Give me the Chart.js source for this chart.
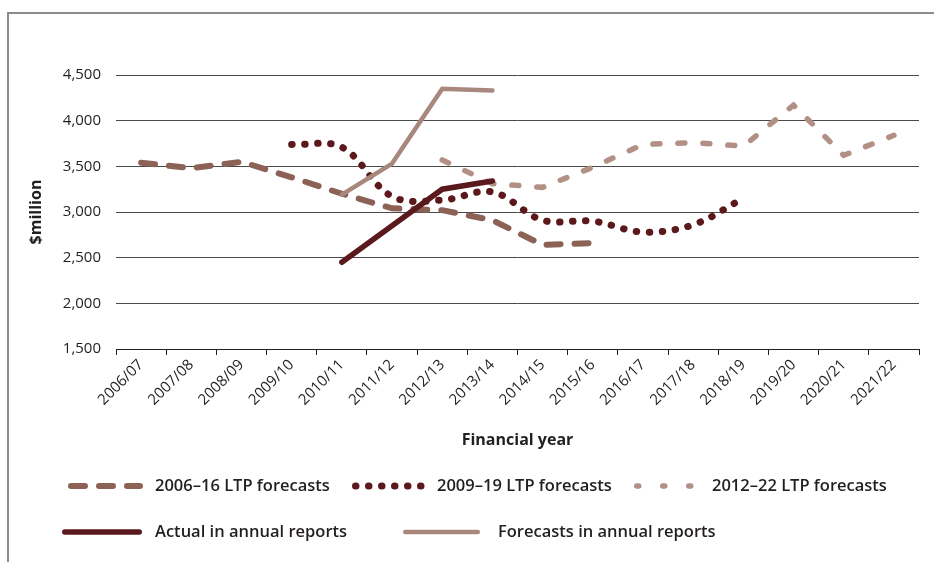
<!DOCTYPE html>
<html>
<head>
<meta charset="utf-8">
<title>LTP forecasts</title>
<script src="https://cdn.jsdelivr.net/npm/chart.js@4"></script>
<style>
  html, body { margin: 0; padding: 0; background: #fff; }
  #wrap { position: relative; width: 934px; height: 562px; overflow: hidden; }
  #frame { position: absolute; left: 7px; top: 12px; width: 940px; height: 560px;
    border-left: 2px solid #8c8c8c; border-top: 2px solid #8c8c8c; }
  #myChart { position: absolute; left: 0; top: 0; }
</style>
</head>
<body>
<div id="wrap">
  <div id="frame"></div>
  <canvas id="myChart" width="934" height="562"></canvas>
</div>
<script>
// financial years on the x axis
const years = ['2006/07', '2007/08', '2008/09', '2009/10', '2010/11', '2011/12', '2012/13', '2013/14',
  '2014/15', '2015/16', '2016/17', '2017/18', '2018/19', '2019/20', '2020/21', '2021/22']

// $million
const ltp0616 = [3540, 3480, 3550, 3380, 3200, 3040, 3020, 2910, 2640, 2660, null, null, null, null, null, null]
const ltp0919 = [null, null, null, 3740, 3710, 3170, 3130, 3220, 2910, 2900, 2780, 2860, 3150, null, null, null]
const ltp1222 = [null, null, null, null, null, null, 3570, 3310, 3270, 3490, 3740, 3760, 3720, 4170, 3620, 3840]
const actual = [null, null, null, null, 2450, 2850, 3250, 3340, null, null, null, null, null, null, null, null]
const annualForecasts = [null, null, null, null, 3190, 3530, 4350, 4330, null, null, null, null, null, null, null, null]

const yTicks = [1500, 2000, 2500, 3000, 3500, 4000, 4500]

const font = '"Open Sans", "DejaVu Sans", sans-serif'

// legend is drawn by hand: two rows like the original
const legendSpots = [
  { x0: 68, x1: 143, y: 486, tx: 155 },
  { x0: 352, x1: 428, y: 486, tx: 437 },
  { x0: 634, x1: 695, y: 486, tx: 712 },
  { x0: 62, x1: 142, y: 532, tx: 155 },
  { x0: 403, x1: 480, y: 532, tx: 498 }
]

const handLegend = {
  id: 'handLegend',
  afterDraw (chart) {
    const ctx = chart.ctx
    chart.data.datasets.forEach((ds, i) => {
      const p = legendSpots[ds.legendIndex]
      if (!p) return
      ctx.save()
      ctx.strokeStyle = ds.borderColor
      ctx.lineWidth = ds.borderWidth
      ctx.lineCap = ds.borderCapStyle || 'round'
      ctx.setLineDash(ds.legendDash || ds.borderDash || [])
      ctx.beginPath()
      ctx.moveTo(p.x0 + ds.borderWidth / 2, p.y)
      ctx.lineTo(p.x1 - ds.borderWidth / 2, p.y)
      ctx.stroke()
      ctx.setLineDash([])
      ctx.fillStyle = '#231f20'
      ctx.font = '600 16.5px ' + font
      ctx.textBaseline = 'middle'
      ctx.fillText(ds.label, p.tx, p.y)
      ctx.restore()
    })
  }
}

const ctx = document.getElementById('myChart')
const myChart = new Chart(ctx, {
  type: 'line',
  data: {
    labels: years,
    datasets: [
      {
        label: 'Actual in annual reports',
        data: actual,
        borderColor: '#5a1a1d',
        borderWidth: 5.5,
        borderCapStyle: 'round',
        legendIndex: 3,
        order: 0
      },
      {
        label: 'Forecasts in annual reports',
        data: annualForecasts,
        borderColor: '#a8877d',
        borderWidth: 4.5,
        borderCapStyle: 'round',
        legendIndex: 4,
        order: 1
      },
      {
        label: '2006\u201316 LTP forecasts',
        data: ltp0616,
        borderColor: '#8c6257',
        borderWidth: 6,
        borderCapStyle: 'round',
        borderDash: [14, 14],
        legendIndex: 0,
        order: 4
      },
      {
        label: '2009\u201319 LTP forecasts',
        data: ltp0919,
        borderColor: '#5c181b',
        borderWidth: 7,
        borderCapStyle: 'round',
        borderDash: [0.5, 12.5],
        tension: 0.35,
        legendIndex: 1,
        order: 2
      },
      {
        label: '2012\u201322 LTP forecasts',
        data: ltp1222,
        borderColor: '#b29086',
        borderWidth: 5.5,
        borderCapStyle: 'round',
        borderDash: [7, 18],
        legendDash: [2, 24],
        legendIndex: 2,
        order: 3
      }
    ]
  },
  options: {
    responsive: false,
    animation: false,
    elements: { point: { radius: 0, hoverRadius: 0 }, line: { fill: false } },
    layout: { padding: { left: 0, right: 15, top: 75, bottom: 103 } },
    plugins: {
      legend: { display: false },
      tooltip: { enabled: false }
    },
    scales: {
      x: {
        offset: true,
        grid: { offset: true, drawOnChartArea: false, drawTicks: true, tickLength: 6, color: '#231f20' },
        border: { display: true, color: '#231f20', width: 1 },
        ticks: {
          maxRotation: 45,
          minRotation: 45,
          padding: 1,
          color: '#231f20',
          font: { family: font, size: 15 }
        },
        title: {
          display: true,
          text: 'Financial year',
          color: '#231f20',
          font: { family: font, size: 16, weight: 'bold' },
          padding: { top: 0, bottom: 9 }
        },
        afterFit: s => { s.height = 110 }
      },
      y: {
        min: yTicks[0],
        max: yTicks[yTicks.length - 1],
        afterBuildTicks: s => { s.ticks = yTicks.map(v => ({ value: v })) },
        grid: { drawTicks: false, color: '#4a4a4a', lineWidth: 1 },
        border: { display: false },
        ticks: {
          padding: 15,
          color: '#231f20',
          font: { family: font, size: 15 },
          callback: v => v.toLocaleString('en-US')
        },
        title: {
          display: true,
          text: '$million',
          color: '#231f20',
          font: { family: font, size: 16, weight: 'bold' },
          padding: { top: 27, bottom: 0 }
        },
        afterFit: s => { s.width = 116 }
      }
    }
  },
  plugins: [handLegend]
})
</script>
</body>
</html>
